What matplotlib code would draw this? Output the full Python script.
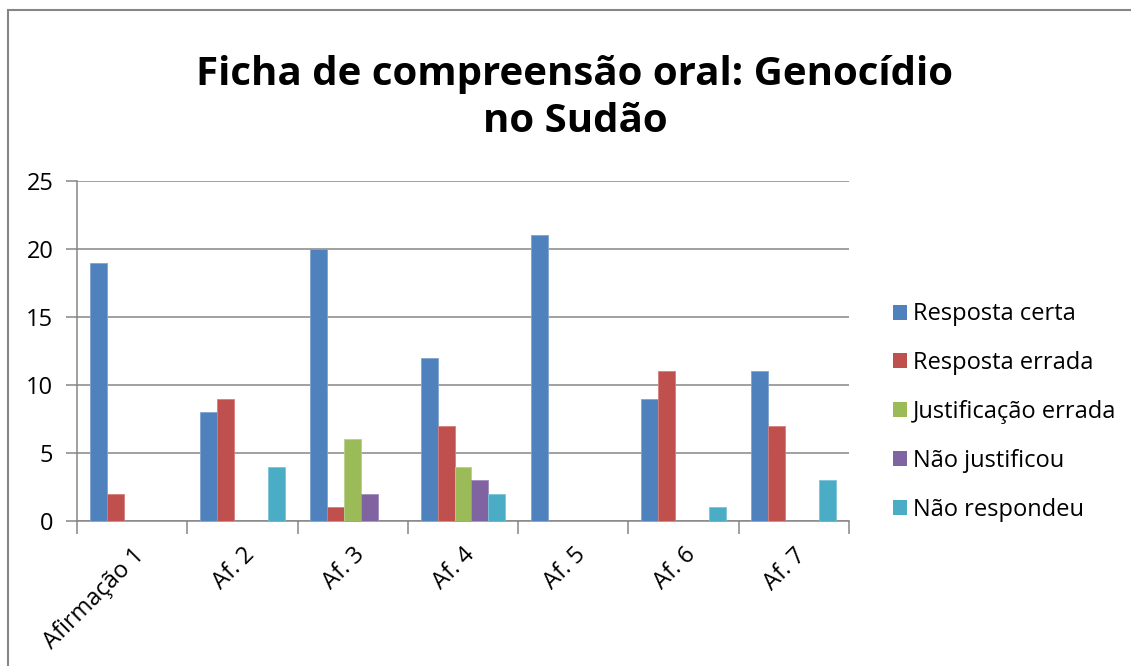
import numpy as np
import matplotlib.pyplot as plt
from matplotlib.patches import Patch, Rectangle

# === Data ===
categories = ['Afirmação 1', 'Af. 2', 'Af. 3', 'Af. 4', 'Af. 5', 'Af. 6', 'Af. 7']
series_names = ['Resposta certa', 'Resposta errada', 'Justificação errada',
                'Não justificou', 'Não respondeu']
resposta_certa = [19, 8, 20, 12, 21, 9, 11]
resposta_errada = [2, 9, 1, 7, 0, 11, 7]
justificacao_errada = [0, 0, 6, 4, 0, 0, 0]
nao_justificou = [0, 0, 2, 3, 0, 0, 0]
nao_respondeu = [0, 4, 0, 2, 0, 1, 3]
yticks = [0, 5, 10, 15, 20, 25]
title_lines = ['Ficha de compreensão oral: Genocídio', 'no Sudão']

series = [resposta_certa, resposta_errada, justificacao_errada, nao_justificou, nao_respondeu]
colors = ['#4F81BD', '#C0504D', '#9BBB59', '#8064A2', '#4BACC6']
edges = ['#7FA3D1', '#D47F7C', '#B8D08A', '#A08CBE', '#7DC4D8']

plt.rcParams['font.family'] = ['Open Sans', 'DejaVu Sans']
grey = '#868686'

fig = plt.figure(figsize=(11.31, 6.66), dpi=100)
fig.patches.append(Rectangle((8 / 1131, -0.1), 1.2, 1.1 - 10 / 666, transform=fig.transFigure,
                             fill=False, edgecolor=grey, linewidth=1.5))
ax = fig.add_axes([77 / 1131, 1 - 521 / 666, (849 - 77) / 1131, (521 - 181) / 666])

x = np.arange(len(categories))
w = 1 / 6.5
for i, (vals, c, e, name) in enumerate(zip(series, colors, edges, series_names)):
    ax.bar(x + (i - 2) * w, vals, width=w, color=c, edgecolor=e, linewidth=0.6,
           label=name, zorder=3)

ax.set_xlim(-0.5, len(categories) - 0.5)
ax.set_ylim(0, 25)
ax.set_yticks(yticks)
ax.yaxis.grid(True, color=grey, linewidth=1.1, zorder=0)
for s in ['top', 'right']:
    ax.spines[s].set_visible(False)
for s in ['left', 'bottom']:
    ax.spines[s].set_color(grey)
    ax.spines[s].set_linewidth(1.1)

ax.tick_params(axis='y', length=8, width=1.1, color=grey, labelsize=17, pad=9)
ax.set_xticks(x)
ax.set_xticklabels(categories, rotation=45, ha='right', rotation_mode='anchor', fontsize=17)
ax.tick_params(axis='x', which='major', length=0, pad=16)
ax.set_xticks(np.arange(-0.5, len(categories)), minor=True)
ax.tick_params(axis='x', which='minor', length=9, width=1.1, color=grey)

# title, two lines placed on their baselines
fig.text(575 / 1131, 1 - 85 / 666, title_lines[0], ha='center', va='baseline',
         fontsize=29, fontweight='bold')
fig.text(575 / 1131, 1 - 132 / 666, title_lines[1], ha='center', va='baseline',
         fontsize=29, fontweight='bold')

handles = [Patch(facecolor=c, edgecolor='none') for c in colors]
fig.legend(handles, series_names, loc='center left', bbox_to_anchor=(872 / 1131, 1 - 412 / 666),
           frameon=False, fontsize=17, handlelength=0.6, handleheight=0.6,
           handletextpad=0.25, labelspacing=1.05)

fig.savefig('out.png', dpi=100)
